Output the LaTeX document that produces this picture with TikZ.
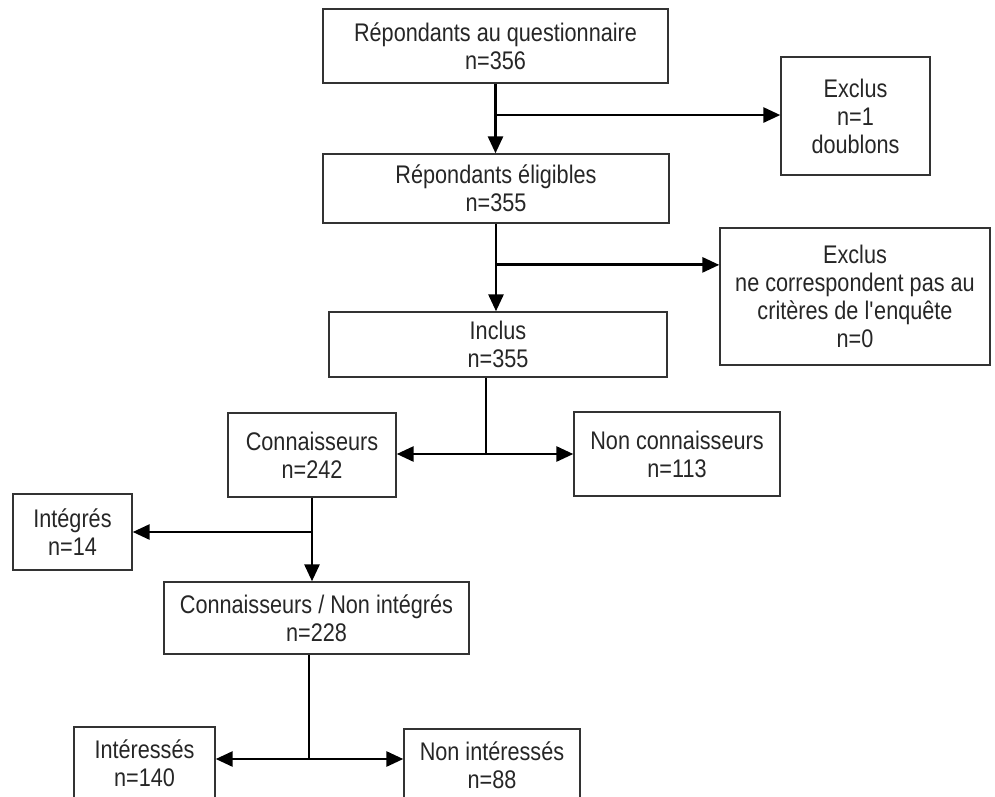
\documentclass[tikz,border=0pt]{standalone}
\usepackage{fontspec}
\setmainfont{Liberation Sans}[FakeStretch=0.85]
\usepackage{tikz}
\usetikzlibrary{arrows.meta,positioning,calc}

\begin{document}
\begin{tikzpicture}[x=0.02cm,y=-0.02cm,
    boite/.style={draw=black!80,line width=0.8pt,align=center,inner sep=0pt,
      text=black!85,font=\fontsize{14.5}{16}\selectfont},
    fleche/.style={line width=1.6pt,-{Triangle[length=0.34cm,width=0.3cm]}},
    fin/.style={line width=0.6pt}]
  \clip (0,0) rectangle (995,796); % 画像の枠（下の箱は途中で切れる）
  \node[boite,minimum width=6.9cm,minimum height=1.48cm] (rq) at (495.5,46)
    {Répondants au questionnaire\\n=356}; % 質問票の回答者
  \node[boite,minimum width=2.98cm,minimum height=2.36cm] (ex1) at (855.5,116)
    {Exclus\\n=1\\doublons}; % 重複による除外
  \node[boite,minimum width=6.92cm,minimum height=1.38cm] (re) at (496,188.5)
    {Répondants éligibles\\n=355}; % 対象となる回答者
  \node[boite,minimum width=5.4cm,minimum height=2.74cm] (ex2) at (855,296.5)
    {Exclus\\ne correspondent pas au\\critères de l\textquotesingle enquête\\n=0}; % 基準外による除外
  \node[boite,minimum width=6.76cm,minimum height=1.3cm] (incl) at (498,344.5)
    {Inclus\\n=355}; % 含まれた回答者
  \node[boite,minimum width=3.36cm,minimum height=1.68cm] (conn) at (312,455)
    {Connaisseurs\\n=242}; % 知っている人
  \node[boite,minimum width=4.12cm,minimum height=1.68cm] (nconn) at (677,454)
    {Non connaisseurs\\n=113}; % 知らない人
  \node[boite,minimum width=2.38cm,minimum height=1.52cm] (integ) at (72.5,532)
    {Intégrés\\n=14}; % 統合済み
  \node[boite,minimum width=6.1cm,minimum height=1.44cm] (cni) at (316.5,618)
    {Connaisseurs / Non intégrés\\n=228}; % 知っているが未統合
  \node[boite,minimum width=2.82cm,minimum height=1.44cm] (int) at (144.5,763)
    {Intéressés\\n=140}; % 関心あり
  \node[boite,minimum width=3.52cm,minimum height=1.44cm] (nint) at (492,765)
    {Non intéressés\\n=88}; % 関心なし

  \coordinate (b1) at ($(rq.south)!0.45!(rq.south |- re.north)$); % 1つ目の分岐点
  \coordinate (b2) at ($(re.south)!0.47!(re.south |- incl.north)$); % 2つ目の分岐点
  \coordinate (c1) at (486,454); % 知識の有無の分岐点
  \coordinate (b3) at (conn.south |- integ.east); % 統合の分岐点
  \coordinate (c2) at (309,759); % 関心の有無の分岐点

  \draw[fleche] (rq.south) -- (rq.south |- re.north); % 下向きの矢印
  \draw[fleche] (b1) -- (b1 -| ex1.west); % 除外への矢印
  \draw[fleche] (re.south) -- (re.south |- incl.north); % 下向きの矢印
  \draw[fleche] (b2) -- (b2 -| ex2.west); % 除外への矢印
  \draw[fin] (incl.south -| c1) -- (c1); % 細い縦線
  \draw[fleche] (c1) -- (c1 -| conn.east); % 左への矢印
  \draw[fleche] (c1) -- (c1 -| nconn.west); % 右への矢印
  \draw[fleche] (conn.south) -- (conn.south |- cni.north); % 下向きの矢印
  \draw[fleche] (b3) -- (integ.east); % 左への矢印
  \draw[fin] (cni.south -| c2) -- (c2); % 細い縦線
  \draw[fleche] (c2) -- (c2 -| int.east); % 左への矢印
  \draw[fleche] (c2) -- (c2 -| nint.west); % 右への矢印
\end{tikzpicture}
\end{document}
